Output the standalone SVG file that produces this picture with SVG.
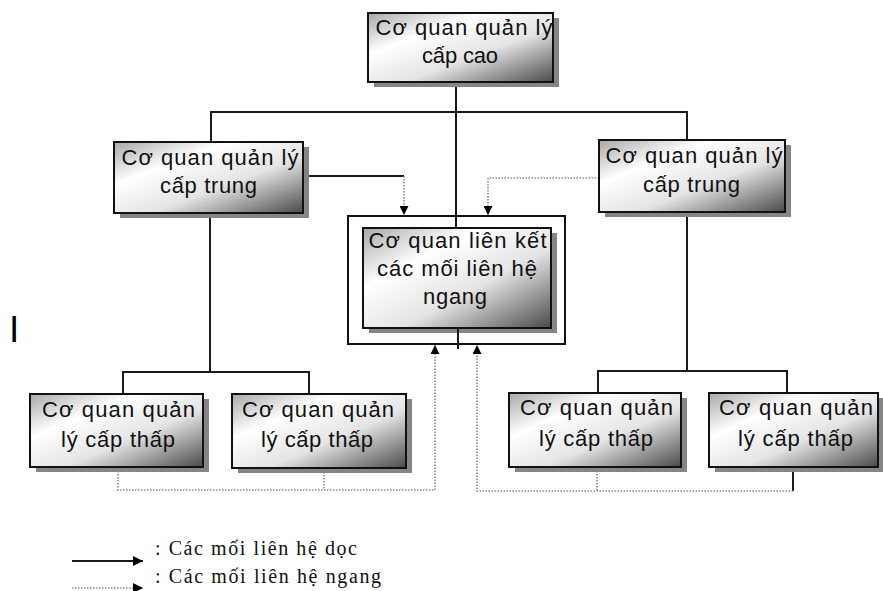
<svg xmlns="http://www.w3.org/2000/svg" width="883" height="591" viewBox="0 0 883 591">
  <defs>
    <linearGradient id="boxFill" x1="0" y1="0" x2="1" y2="1">
      <stop offset="0" stop-color="#a8a8a8"/>
      <stop offset="0.3" stop-color="#ffffff"/>
      <stop offset="0.6" stop-color="#e4e4e4"/>
      <stop offset="1" stop-color="#4a4a4a"/>
    </linearGradient>
    <marker id="arrow" viewBox="0 0 10 10" refX="10" refY="5" markerWidth="10" markerHeight="9" markerUnits="userSpaceOnUse" orient="auto">
      <path d="M0,0 L10,5 L0,10 Z" fill="#000"/>
    </marker>
    <marker id="arrowBig" viewBox="0 0 10 10" refX="10" refY="5" markerWidth="13" markerHeight="10" markerUnits="userSpaceOnUse" orient="auto">
      <path d="M0,0 L10,5 L0,10 Z" fill="#000"/>
    </marker>
  </defs>
  <style>
    .shadow { fill: #858585; }
    .box { fill: url(#boxFill); stroke: #111; stroke-width: 2; }
    .frame { fill: #fff; stroke: #111; stroke-width: 2; }
    .label { font-family: "Liberation Sans", Arial, sans-serif; font-size: 22px; fill: #111; text-anchor: middle; }
    .solid { fill: none; stroke: #1a1a1a; stroke-width: 2; }
    .dotted { fill: none; stroke: #8a8a8a; stroke-width: 1.6; stroke-dasharray: 1.5 1.5; }
    .legend { font-family: "Liberation Serif", "Times New Roman", serif; font-size: 20px; fill: #111; }
  </style>
  <rect width="883" height="591" fill="#fff"/>

  <!-- connectors -->
  <g id="connectors">
    <!-- vertical (solid) links -->
    <path class="solid" d="M456,82 V228"/>
    <path class="solid" d="M211,142 V112 H687 V140"/>
    <path class="solid" d="M210,213 V372"/>
    <path class="solid" d="M123,394 V372 H309 V394"/>
    <path class="solid" d="M687,212 V371"/>
    <path class="solid" d="M598,393 V371 H787 V393"/>
    <path class="solid" d="M303,176 H404"/>
    <path class="solid" d="M793,467 V491"/>
    <!-- horizontal (dotted) links -->
    <path class="dotted" d="M404,176 V215" marker-end="url(#arrow)"/>
    <path class="dotted" d="M599,178 H488 V215" marker-end="url(#arrow)"/>
    <path class="dotted" d="M118,468 V490 H435 V345" marker-end="url(#arrow)"/>
    <path class="dotted" d="M324,469 V490"/>
    <path class="dotted" d="M793,491 H477 V345" marker-end="url(#arrow)"/>
    <path class="dotted" d="M597,468 V491"/>
  </g>

  <!-- top level -->
  <g id="top">
    <rect class="shadow" x="374" y="18" width="185" height="69"/>
    <rect class="box" x="368" y="13" width="185" height="69"/>
    <text class="label" x="464" y="35" textLength="177" lengthAdjust="spacing">Cơ quan quản lý</text>
    <text class="label" x="460" y="63" textLength="76" lengthAdjust="spacing">cấp cao</text>
  </g>

  <!-- middle level -->
  <g id="mid-left">
    <rect class="shadow" x="120" y="147" width="189" height="71"/>
    <rect class="box" x="114" y="142" width="189" height="71"/>
    <text class="label" x="210" y="165" textLength="177" lengthAdjust="spacing">Cơ quan quản lý</text>
    <text class="label" x="208.5" y="193" textLength="97" lengthAdjust="spacing">cấp trung</text>
  </g>
  <g id="mid-right">
    <rect class="shadow" x="605" y="145" width="186" height="72"/>
    <rect class="box" x="599" y="140" width="186" height="72"/>
    <text class="label" x="694" y="163" textLength="177" lengthAdjust="spacing">Cơ quan quản lý</text>
    <text class="label" x="691.5" y="192" textLength="97" lengthAdjust="spacing">cấp trung</text>
  </g>

  <!-- horizontal coordination body -->
  <g id="coordination">
    <rect class="frame" x="348" y="216" width="217" height="128"/>
    <rect class="shadow" x="369" y="233" width="188" height="100"/>
    <rect class="box" x="363" y="228" width="188" height="100"/>
    <path class="solid" d="M456,216 V228"/>
    <path class="solid" d="M458,328 V349"/>
    <text class="label" x="457.5" y="248" textLength="178" lengthAdjust="spacing">Cơ quan liên kết</text>
    <text class="label" x="457" y="276" textLength="160" lengthAdjust="spacing">các mối liên hệ</text>
    <text class="label" x="455" y="304" textLength="64" lengthAdjust="spacing">ngang</text>
  </g>

  <!-- lower level -->
  <g id="low-1">
    <rect class="shadow" x="36" y="399" width="173" height="73"/>
    <rect class="box" x="30" y="394" width="173" height="73"/>
    <text class="label" x="118.5" y="417" textLength="153" lengthAdjust="spacing">Cơ quan quản</text>
    <text class="label" x="118" y="447" textLength="114" lengthAdjust="spacing">lý cấp thấp</text>
  </g>
  <g id="low-2">
    <rect class="shadow" x="238" y="399" width="174" height="74"/>
    <rect class="box" x="232" y="394" width="174" height="74"/>
    <text class="label" x="318" y="417" textLength="152" lengthAdjust="spacing">Cơ quan quản</text>
    <text class="label" x="317" y="447" textLength="112" lengthAdjust="spacing">lý cấp thấp</text>
  </g>
  <g id="low-3">
    <rect class="shadow" x="515" y="398" width="172" height="74"/>
    <rect class="box" x="509" y="393" width="172" height="74"/>
    <text class="label" x="596.5" y="415" textLength="153" lengthAdjust="spacing">Cơ quan quản</text>
    <text class="label" x="596" y="446" textLength="114" lengthAdjust="spacing">lý cấp thấp</text>
  </g>
  <g id="low-4">
    <rect class="shadow" x="715" y="398" width="169" height="74"/>
    <rect class="box" x="709" y="393" width="169" height="74"/>
    <text class="label" x="796" y="415" textLength="154" lengthAdjust="spacing">Cơ quan quản</text>
    <text class="label" x="795.5" y="446" textLength="115" lengthAdjust="spacing">lý cấp thấp</text>
  </g>

  <!-- stray mark at left -->
  <text x="9" y="342" font-family="Liberation Sans, Arial, sans-serif" font-size="37" fill="#000">I</text>

  <!-- legend -->
  <g id="legend">
    <path class="solid" d="M72,561 H143" marker-end="url(#arrowBig)"/>
    <text class="legend" x="155" y="555" textLength="202" lengthAdjust="spacing">: Các mối liên hệ dọc</text>
    <path class="dotted" d="M72,588 H143" marker-end="url(#arrowBig)"/>
    <text class="legend" x="155" y="583" textLength="226" lengthAdjust="spacing">: Các mối liên hệ ngang</text>
  </g>
</svg>
